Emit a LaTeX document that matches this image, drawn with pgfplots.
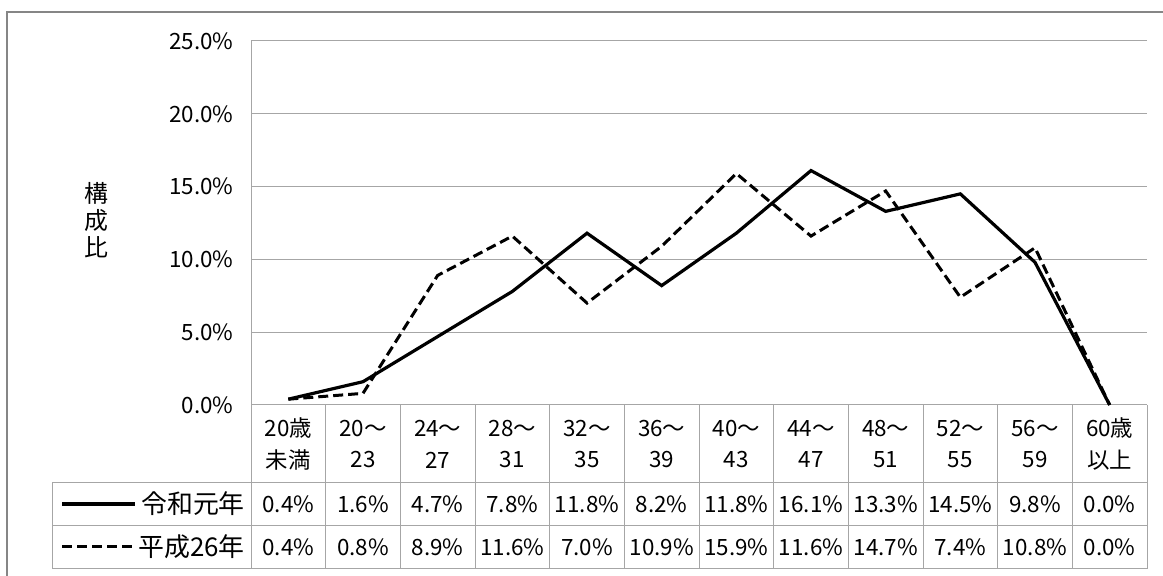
\documentclass[border=0pt]{standalone}
\usepackage{fontspec}
\setmainfont{Noto Sans CJK JP}
\usepackage{pgfplots}
\usepackage{pgfplotstable}
\pgfplotsset{compat=1.18}

\pgfplotstableread{
x    r1   h26
0.5  0.4  0.4
1.5  1.6  0.8
2.5  4.7  8.9
3.5  7.8  11.6
4.5  11.8 7.0
5.5  8.2  10.9
6.5  11.8 15.9
7.5  16.1 11.6
8.5  13.3 14.7
9.5  14.5 7.4
10.5 9.8  10.8
11.5 0.0  0.0
}\agedata

\definecolor{gridgray}{RGB}{166,166,166}
\definecolor{framegray}{RGB}{134,134,134}
\newcommand{\cellfont}{\fontsize{22.5}{32}\selectfont}

\begin{document}
\begin{tikzpicture}
\useasboundingbox (0bp,0bp) rectangle (1163bp,576bp);
% outer chart frame
\draw[framegray, line width=1.2bp] (7bp,-20bp) -- (7bp,564bp) -- (1180bp,564bp);

\begin{axis}[
  at={(251bp,171bp)}, anchor=south west,
  scale only axis, width=896bp, height=364bp,
  xmin=0, xmax=12, ymin=0, ymax=25,
  clip=false,
  axis x line=bottom, axis y line=left,
  axis line style={gridgray, line width=1bp, -},
  ymajorgrids, grid style={gridgray, line width=1bp},
  major tick length=0,
  ytick={0,5,10,15,20,25},
  yticklabel={\pgfmathprintnumber[fixed,fixed zerofill,precision=1]{\tick}\%},
  /pgf/number format/assume math mode=true,
  yticklabel style={font=\cellfont, xshift=-14bp},
  xtick={0.5,1.5,...,11.5},
  xticklabels={{20歳\\未満}, {20〜\\23}, {24〜\\27}, {28〜\\31}, {32〜\\35}, {36〜\\39},
    {40〜\\43}, {44〜\\47}, {48〜\\51}, {52〜\\55}, {56〜\\59}, {60歳\\以上}},
  xticklabel style={font=\cellfont, align=center, anchor=center, yshift=-39bp},
  ylabel={構\\成\\比},
  ylabel style={rotate=-90, align=center, font=\fontsize{24}{27}\selectfont,
    at={(axis description cs:-0.172,0.508)}, anchor=center},
]
\addplot[black, line width=3.2bp] table[x=x, y=r1] {\agedata};
\addplot[black, line width=3bp, dash pattern=on 10bp off 5bp] table[x=x, y=h26] {\agedata};

% data table rows
\addplot[draw=none, point meta=explicit,
  nodes near coords={\pgfmathprintnumber[fixed,fixed zerofill,precision=1]{\pgfplotspointmeta}\%},
  nodes near coords style={anchor=center, font=\cellfont, text=black}]
  table[x=x, y expr=-6.8, meta=r1] {\agedata};
\addplot[draw=none, point meta=explicit,
  nodes near coords={\pgfmathprintnumber[fixed,fixed zerofill,precision=1]{\pgfplotspointmeta}\%},
  nodes near coords style={anchor=center, font=\cellfont, text=black}]
  table[x=x, y expr=-9.75, meta=h26] {\agedata};

% table rules
\draw[gridgray, line width=1bp]
  (axis cs:-2.665,-5.29) -- (axis cs:12,-5.29)
  (axis cs:-2.665,-8.31) -- (axis cs:12,-8.31)
  (axis cs:-2.665,-11.26) -- (axis cs:12,-11.26)
  (axis cs:-2.665,-5.29) -- (axis cs:-2.665,-11.26);
\pgfplotsinvokeforeach{0,...,12}{
  \draw[gridgray, line width=1bp] (axis cs:#1,0) -- (axis cs:#1,-11.26);
}
% legend keys
\draw[black, line width=3.2bp] (axis cs:-2.53,-6.8) -- (axis cs:-1.553,-6.8);
\draw[black, line width=3bp, dash pattern=on 10bp off 5bp] (axis cs:-2.53,-9.75) -- (axis cs:-1.553,-9.75);
\node[anchor=east, font=\fontsize{26}{30}\selectfont, inner sep=0pt] at (axis cs:-0.08,-6.8) {令和元年};
\node[anchor=east, font=\fontsize{26}{30}\selectfont, inner sep=0pt] at (axis cs:-0.08,-9.75) {平成26年};
\end{axis}
\end{tikzpicture}
\end{document}
